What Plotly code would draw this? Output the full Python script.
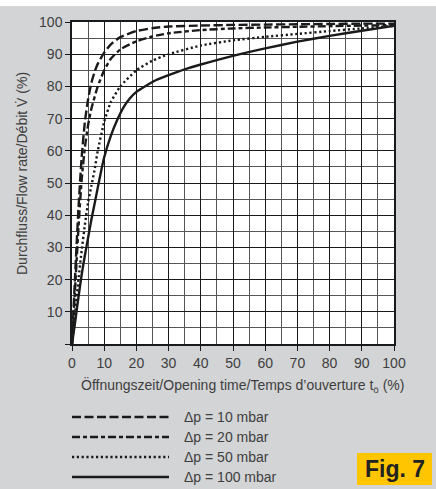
import plotly.graph_objects as go

# ---- data ----
x_10 = [0, 1, 2, 3, 4, 5, 6, 7, 8, 10, 12, 15, 20, 25, 30, 40, 50, 60, 70, 80, 90, 100]
y_10 = [0, 22, 42, 58, 69, 76, 81, 84.5, 87, 90.5, 93, 95.3, 97.2, 98.1, 98.6, 98.9, 99.1, 99.2, 99.3, 99.4, 99.5, 99.5]

x_20 = [0, 1, 2, 3, 4, 5, 6, 8, 10, 12, 15, 20, 25, 30, 40, 50, 60, 70, 80, 90, 100]
y_20 = [0, 18, 36, 51, 61, 68, 73, 80, 85, 88.5, 91.5, 94, 95.5, 96.5, 97.5, 98, 98.3, 98.5, 98.7, 98.9, 99]

x_50 = [0, 1, 2, 3, 4, 5, 6, 7, 8, 10, 12, 15, 20, 25, 30, 40, 50, 60, 70, 80, 90, 100]
y_50 = [0, 10, 20, 29, 37, 44, 49, 54, 60, 69, 75, 80, 85, 88, 90, 92.7, 94.3, 95.4, 96.3, 97.2, 98, 98.8]

x_100 = [0, 1, 2, 3, 4, 5, 6, 7, 8, 9, 10, 12, 14, 16, 18, 20, 23, 26, 30, 35, 40, 50, 60, 70, 80, 90, 100]
y_100 = [0, 7, 14.5, 21.5, 27.5, 33, 38.5, 43.5, 48.5, 53.5, 58, 64.5, 69.5, 73.5, 76.3, 78.3, 80.2, 81.9, 83.5, 85.3, 86.8, 89.5, 91.8, 93.9, 95.7, 97.3, 98.8]

labels = ["\u0394p = 10 mbar", "\u0394p = 20 mbar", "\u0394p = 50 mbar", "\u0394p = 100 mbar"]
dashes = ["9px,3.5px", "8px,3px,4px,3px", "2.2px,2.6px", "solid"]

x_ticks = list(range(0, 101, 10))
y_ticks = list(range(0, 101, 10))
y_ticktext = [""] + [str(v) for v in y_ticks[1:]]

x_title = "\u00d6ffnungszeit/Opening time/Temps d\u2019ouverture t<sub>\u00f6</sub> (%)"
y_title = "Durchfluss/Flow rate/D\u00e9bit V\u0307 (%)"
fig_label = "Fig. 7"

# ---- layout geometry ----
W, H = 436, 489
L, R, T, B = 72, 42, 22, 145
PW = W - L - R
PH = H - T - B

def px_x(p):
    return (p - L) / PW

def px_y(p):
    return (H - B - p) / PH

FONT = "Liberation Sans, Arial, sans-serif"
TXT = "#3e3e3e"
LINE = "#1a1a1a"

fig = go.Figure()
series = [(x_10, y_10), (x_20, y_20), (x_50, y_50), (x_100, y_100)]
for (xs, ys), name, d in zip(series, labels, dashes):
    fig.add_trace(go.Scatter(x=xs, y=ys, mode="lines", name=name,
                             line=dict(color=LINE, width=2.4, dash=d, shape="spline", smoothing=0.5),
                             showlegend=False, hoverinfo="skip"))

shapes = []
annotations = []

# white strip at top
shapes.append(dict(type="rect", xref="paper", yref="paper",
                   x0=px_x(0), x1=px_x(W), y0=px_y(6), y1=px_y(0),
                   fillcolor="white", line=dict(width=0), layer="below"))

# legend (manual, long line samples)
leg_y = [417, 437, 457, 477]
for name, d, yy in zip(labels, dashes, leg_y):
    shapes.append(dict(type="line", xref="paper", yref="paper",
                       x0=px_x(72), x1=px_x(169), y0=px_y(yy), y1=px_y(yy),
                       line=dict(color=LINE, width=2.4, dash=d)))
    annotations.append(dict(text=name, xref="paper", yref="paper",
                            x=px_x(182), y=px_y(yy), xanchor="left", yanchor="middle",
                            showarrow=False, font=dict(family=FONT, size=14, color=TXT)))

# Fig. 7 box
shapes.append(dict(type="rect", xref="paper", yref="paper",
                   x0=px_x(357), x1=px_x(432), y0=px_y(485), y1=px_y(453),
                   fillcolor="#FFC500", line=dict(width=0)))
annotations.append(dict(text="<b>" + fig_label + "</b>", xref="paper", yref="paper",
                        x=px_x(394.5), y=px_y(469), xanchor="center", yanchor="middle",
                        showarrow=False, font=dict(family=FONT, size=23, color="#222222")))

# axis titles
annotations.append(dict(text=x_title, xref="paper", yref="paper",
                        x=px_x(242), y=px_y(385), xanchor="center", yanchor="middle",
                        showarrow=False, font=dict(family=FONT, size=14, color=TXT)))
annotations.append(dict(text=y_title, xref="paper", yref="paper",
                        x=px_x(22), y=px_y(174), xanchor="center", yanchor="middle",
                        textangle=-90, showarrow=False, font=dict(family=FONT, size=14, color=TXT)))

axis_common = dict(range=[0, 100], showgrid=True, gridcolor="#1a1a1a", gridwidth=1.3,
                   showline=True, linecolor="#1a1a1a", linewidth=1.5, mirror=True,
                   ticks="outside", ticklen=5, tickcolor="#1a1a1a", tickwidth=1.3,
                   zeroline=False, fixedrange=True,
                   tickfont=dict(family=FONT, size=14, color=TXT),
                   minor=dict(dtick=5, showgrid=True, gridcolor="#555555", gridwidth=1, ticks=""))

fig.update_xaxes(**axis_common, tickvals=x_ticks, ticktext=[str(v) for v in x_ticks])
fig.update_yaxes(**axis_common, tickvals=y_ticks, ticktext=y_ticktext)

fig.update_layout(width=W, height=H, margin=dict(l=L, r=R, t=T, b=B, pad=0),
                  paper_bgcolor="#d3d4d6", plot_bgcolor="white",
                  shapes=shapes, annotations=annotations, showlegend=False,
                  font=dict(family=FONT, color=TXT))

fig.write_html("out.html", config={"displayModeBar": False},
               post_script="document.body.style.margin='0';document.body.style.padding='0';document.body.style.overflow='hidden';")
